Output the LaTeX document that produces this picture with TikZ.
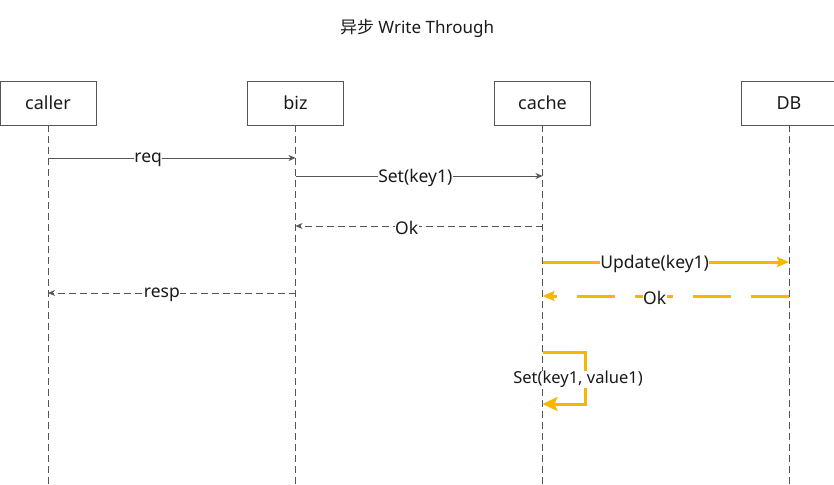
\documentclass[tikz,border=0pt]{standalone}
\usepackage{fontspec}
\setmainfont{Noto Sans}
\newfontfamily\cjk{Noto Sans CJK SC}
\usetikzlibrary{arrows.meta}
\definecolor{ln}{HTML}{555555}
\definecolor{org}{HTML}{F5B800}
\definecolor{txt}{HTML}{1A1A1A}
\begin{document}
\begin{tikzpicture}[x=1pt,y=-1pt,
  actor/.style={draw=ln,line width=0.8pt,minimum width=96pt,minimum height=44pt,inner sep=0pt,font=\fontsize{18}{20}\selectfont,text=txt},
  life/.style={draw=ln,line width=0.9pt,dash pattern=on 7pt off 4pt},
  msg/.style={draw=ln,line width=0.8pt,-{Stealth[length=7pt,width=6pt]}},
  ret/.style={msg,dash pattern=on 7pt off 4pt},
  omsg/.style={draw=org,line width=3pt,-{Stealth[length=12pt,width=10pt,inset=2pt]}},
  oret/.style={omsg,dash pattern=on 38pt off 20pt},
  lbl/.style={fill=white,inner sep=0.5pt,yshift=-1.5pt,font=\fontsize{17.5}{20}\selectfont,text=txt}]
\useasboundingbox (0,0) rectangle (834,484);
\node[font=\fontsize{17}{20}\selectfont,text=txt] (title) at (417,28) {{\cjk 异步} Write Through};
\node[actor] (caller) at (48,103) {caller};
\node[actor] (biz) at (295.5,103) {biz};
\node[actor] (cache) at (542.5,103) {cache};
\node[actor] (db) at (789,103) {DB};
\foreach \n/\x in {caller/48,biz/295.5,cache/542.5,db/789}{
  \coordinate (\n-end) at (\x,484);
  \draw[life] (\n.south) -- (\n-end);
}
% req
\coordinate (a1) at (48,158); \coordinate (a2) at (295.5,158);
\draw[msg] (a1) -- node[lbl,pos=0.405]{req} (a2);
% Set(key1)
\coordinate (b1) at (295.5,176); \coordinate (b2) at (542.5,176);
\draw[msg] (b1) -- node[lbl,pos=0.485]{Set(key1)} (b2);
% Ok
\coordinate (c1) at (542.5,226); \coordinate (c2) at (295.5,226);
\draw[ret] (c1) -- node[lbl,pos=0.55]{Ok} (c2);
% Update
\coordinate (d1) at (542.5,262); \coordinate (d2) at (789,262);
\draw[omsg] (d1) -- node[lbl,pos=0.455]{Update(key1)} (d2);
% resp
\coordinate (e1) at (295.5,293); \coordinate (e2) at (48,293);
\draw[ret] (e1) -- node[lbl,pos=0.54]{resp} (e2);
% Ok orange
\coordinate (f1) at (789,296); \coordinate (f2) at (542.5,296);
\draw[oret] (f1) -- node[lbl,pos=0.545]{Ok} (f2);
% self loop
\coordinate (g1) at (542.5,352); \coordinate (g2) at (585,352);
\coordinate (g3) at (585,404); \coordinate (g4) at (542.5,404);
\draw[draw=org,line width=3pt,-{Stealth[length=15pt,width=14pt,inset=3pt]}] (g1) -- (g2) -- (g3) -- (g4);
\node[lbl,font=\fontsize{16.5}{20}\selectfont] (selflbl) at (578,378) {Set(key1, value1)};
\end{tikzpicture}
\end{document}
